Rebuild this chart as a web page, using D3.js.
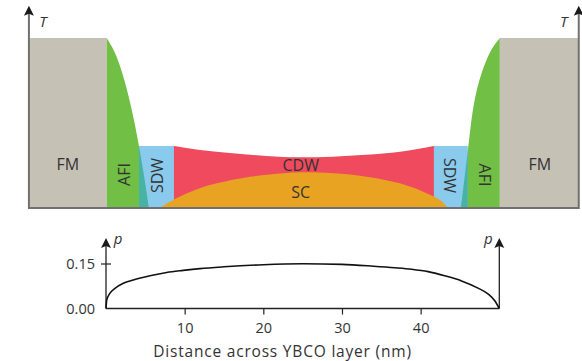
<!DOCTYPE html>
<html>
<head>
<meta charset="utf-8">
<script src="https://cdn.jsdelivr.net/npm/d3@7"></script>
<style>
  html, body { margin: 0; padding: 0; background: #fff; }
  svg { display: block; font-family: "Open Sans", "DejaVu Sans", sans-serif; }
</style>
</head>
<body>
<svg id="chart" width="582" height="361"></svg>
<script>
// ---- Phase diagram (top panel): x in nm, T in relative units ----
const topSpan = [-9.8, 60.1];            // extent of the top panel axes (nm)
const topArrowT = 1.19;                  // T value at the arrow tip
const fmBands = [[-9.8, 0.1], [50.06, 60.1]];
const fmHeight = 1.0;

// AFI dome boundaries, listed from top (T=1) down to T=0: [x nm, T]
const afiLeft = [[0.1, 1.0], [0.75, 0.95], [1.3, 0.9], [2.05, 0.8], [2.65, 0.7], [3.17, 0.6],
                 [3.64, 0.5], [4.05, 0.4], [4.44, 0.3], [4.8, 0.2], [5.14, 0.1], [5.45, 0]];
const afiRight = [[50.06, 1.0], [49.21, 0.95], [48.61, 0.9], [47.76, 0.8], [47.14, 0.7],
                  [46.71, 0.6], [46.4, 0.5], [46.16, 0.4], [45.9, 0.3], [45.64, 0.2],
                  [45.38, 0.1], [45.11, 0]];

// SDW slabs: [x0, x1] in nm, common height
const sdwBands = [[4.19, 8.64], [41.68, 46.0]];
const sdwHeight = 0.365;

// Upper edge of the CDW region
const cdwTop = [[8.5, 0.366], [11.94, 0.341], [16.1, 0.322], [20.4, 0.306], [24.65, 0.298],
                [28.8, 0.302], [33.1, 0.313], [37.4, 0.331], [41.8, 0.366]];

// SC dome
const scDome = [[6.77, 0], [8.13, 0.037], [9.82, 0.076], [11.94, 0.116], [14.07, 0.145],
                [18.3, 0.184], [22.53, 0.204], [24.65, 0.21], [28.88, 0.204], [33.13, 0.184],
                [37.36, 0.145], [40.32, 0.096], [42.44, 0.047], [43.5, 0]];

// Region labels: [text, x nm, T, rotation]
const regionLabels = [
  ["FM", -4.85, 0.258, 0], ["AFI", 2.29, 0.197, -90], ["SDW", 6.5, 0.191, -90],
  ["CDW", 24.75, 0.253, 0], ["SC", 24.75, 0.096, 0],
  ["SDW", 43.75, 0.191, 90], ["AFI", 48.2, 0.194, 90], ["FM", 55.15, 0.258, 0]
];

// ---- Order parameter profile (bottom panel) ----
const pCurve = [[0, 0], [0.09, 0.028], [0.51, 0.051], [1.14, 0.067], [2.2, 0.084],
                [3.47, 0.095], [5.59, 0.109], [7.71, 0.12], [9.82, 0.127], [11.94, 0.133],
                [15, 0.139], [20, 0.146], [25, 0.149], [30, 0.147], [34, 0.141],
                [36.7, 0.136], [38.84, 0.131], [40.95, 0.123], [43.07, 0.109], [45.2, 0.092],
                [47.3, 0.068], [48.6, 0.048], [49.45, 0.025], [50, 0]];
const pTicks = [0, 0.15];
const xTicks = [10, 20, 30, 40];
const pArrow = 0.235;
const xTitle = "Distance across YBCO layer (nm)";

const colors = {
  fm: "#c5c1b5", afi: "#71bf44", sdw: "#8acaed", overlap: "#48b3a2",
  cdw: "#ef4a5d", sc: "#e8a322", text: "#333333", axisTop: "#707070"
};

const svg = d3.select("#chart");
const x = d3.scaleLinear().domain([0, 50]).range([106, 499.3]);
const yT = d3.scaleLinear().domain([0, 1]).range([208, 38]);
const yP = d3.scaleLinear().domain([0, 0.15]).range([308.5, 263.5]);

const gTop = svg.append("g");

// FM slabs
gTop.selectAll("rect.fm").data(fmBands).join("rect")
  .attr("class", "fm")
  .attr("x", d => x(d[0])).attr("width", d => x(d[1]) - x(d[0]))
  .attr("y", yT(fmHeight)).attr("height", yT(0) - yT(fmHeight))
  .attr("fill", colors.fm);

// AFI areas (vertical orientation)
const afiLeftArea = d3.area().curve(d3.curveBasis)
  .y(d => yT(d[1])).x0(x(afiLeft[0][0])).x1(d => x(d[0]));
const afiRightArea = d3.area().curve(d3.curveBasis)
  .y(d => yT(d[1])).x0(d => x(d[0])).x1(x(afiRight[0][0]));
const afiPaths = [afiLeftArea(afiLeft), afiRightArea(afiRight)];
gTop.selectAll("path.afi").data(afiPaths).join("path")
  .attr("class", "afi").attr("d", d => d).attr("fill", colors.afi);

// CDW
const cdwArea = d3.area().curve(d3.curveMonotoneX)
  .x(d => x(d[0])).y0(yT(0)).y1(d => yT(d[1]));
gTop.append("path").attr("d", cdwArea(cdwTop)).attr("fill", colors.cdw);

// SDW slabs
gTop.selectAll("rect.sdw").data(sdwBands).join("rect")
  .attr("class", "sdw")
  .attr("x", d => x(d[0])).attr("width", d => x(d[1]) - x(d[0]))
  .attr("y", yT(sdwHeight)).attr("height", yT(0) - yT(sdwHeight))
  .attr("fill", colors.sdw);

// AFI/SDW coexistence
const clip = svg.append("defs").append("clipPath").attr("id", "sdwClip");
clip.selectAll("rect").data(sdwBands).join("rect")
  .attr("x", d => x(d[0])).attr("width", d => x(d[1]) - x(d[0]))
  .attr("y", yT(sdwHeight)).attr("height", yT(0) - yT(sdwHeight));
gTop.append("g").attr("clip-path", "url(#sdwClip)")
  .selectAll("path").data(afiPaths).join("path")
  .attr("d", d => d).attr("fill", colors.overlap);

// SC dome
const scArea = d3.area().curve(d3.curveCatmullRom)
  .x(d => x(d[0])).y0(yT(0)).y1(d => yT(d[1]));
gTop.append("path").attr("d", scArea(scDome)).attr("fill", colors.sc);

// Region labels
gTop.selectAll("text.region").data(regionLabels).join("text")
  .attr("class", "region")
  .attr("transform", d => `translate(${x(d[1])},${yT(d[2])}) rotate(${d[3]})`)
  .attr("text-anchor", "middle").attr("dominant-baseline", "central")
  .attr("font-size", 16).attr("fill", colors.text)
  .text(d => d[0]);

// Arrowhead helper (tip at px, py pointing up)
function arrow(g, px, py, color) {
  g.append("path")
    .attr("d", `M${px},${py} L${px + 5},${py + 10} L${px},${py + 8} L${px - 5},${py + 10} Z`)
    .attr("fill", color);
}

// Top panel axes
gTop.append("line")
  .attr("x1", x(topSpan[0])).attr("x2", x(topSpan[1]))
  .attr("y1", yT(0)).attr("y2", yT(0))
  .attr("stroke", colors.axisTop).attr("stroke-width", 2);
topSpan.forEach(v => {
  gTop.append("line")
    .attr("x1", x(v)).attr("x2", x(v))
    .attr("y1", yT(0) + 1).attr("y2", yT(topArrowT) + 6)
    .attr("stroke", colors.axisTop).attr("stroke-width", 2);
  arrow(gTop, x(v), yT(topArrowT), "#1a1a1a");
});
gTop.append("text").attr("x", x(topSpan[0]) + 14).attr("y", 27)
  .attr("font-size", 15).attr("font-style", "italic").attr("fill", colors.text)
  .attr("text-anchor", "middle").text("T");
gTop.append("text").attr("x", x(topSpan[1]) - 15).attr("y", 27)
  .attr("font-size", 15).attr("font-style", "italic").attr("fill", colors.text)
  .attr("text-anchor", "middle").text("T");

// ---- Bottom panel ----
const gBot = svg.append("g");

const xAxis = d3.axisBottom(x).tickValues(xTicks).tickSize(6).tickPadding(8)
  .tickFormat(d3.format("d"));
const gx = gBot.append("g").attr("transform", `translate(0,${yP(0)})`).call(xAxis);
gx.select(".domain").remove();
gx.selectAll("line").attr("stroke", "#222").attr("stroke-width", 1.2);
gx.selectAll("text").attr("font-size", 14.5).attr("fill", colors.text)
  .attr("font-family", "'Open Sans', sans-serif");

const yAxis = d3.axisLeft(yP).tickValues(pTicks).tickSize(5).tickPadding(6)
  .tickFormat(d3.format(".2f"));
const gy = gBot.append("g").attr("transform", `translate(${x(0)},0)`).call(yAxis);
gy.select(".domain").remove();
gy.selectAll(".tick line").attr("x2", d => d === 0 ? 0 : -5).attr("x1", d => d === 0 ? 0 : 5)
  .attr("stroke", "#222").attr("stroke-width", 1.2);
gy.selectAll("text").attr("font-size", 14.5).attr("fill", colors.text)
  .attr("font-family", "'Open Sans', sans-serif");

// Axis lines and arrows
gBot.append("line").attr("x1", x(0)).attr("x2", x(50))
  .attr("y1", yP(0)).attr("y2", yP(0)).attr("stroke", "#222").attr("stroke-width", 1.3);
[0, 50].forEach(v => {
  gBot.append("line").attr("x1", x(v)).attr("x2", x(v))
    .attr("y1", yP(0)).attr("y2", yP(pArrow) + 6)
    .attr("stroke", "#222").attr("stroke-width", 1.3);
  arrow(gBot, x(v), yP(pArrow), "#1a1a1a");
});
gBot.append("text").attr("x", x(0) + 12).attr("y", 244)
  .attr("font-size", 15).attr("font-style", "italic").attr("fill", colors.text)
  .attr("text-anchor", "middle").text("p");
gBot.append("text").attr("x", x(50) - 11).attr("y", 244)
  .attr("font-size", 15).attr("font-style", "italic").attr("fill", colors.text)
  .attr("text-anchor", "middle").text("p");

// Order parameter curve
const pLine = d3.line().curve(d3.curveMonotoneX).x(d => x(d[0])).y(d => yP(d[1]));
gBot.append("path").attr("d", pLine(pCurve))
  .attr("fill", "none").attr("stroke", "#111").attr("stroke-width", 1.6);

gBot.append("text").attr("x", 282.5).attr("y", 357)
  .attr("text-anchor", "middle").attr("font-size", 15.5).attr("letter-spacing", 0.8)
  .attr("fill", colors.text)
  .text(xTitle);
</script>
</body>
</html>
